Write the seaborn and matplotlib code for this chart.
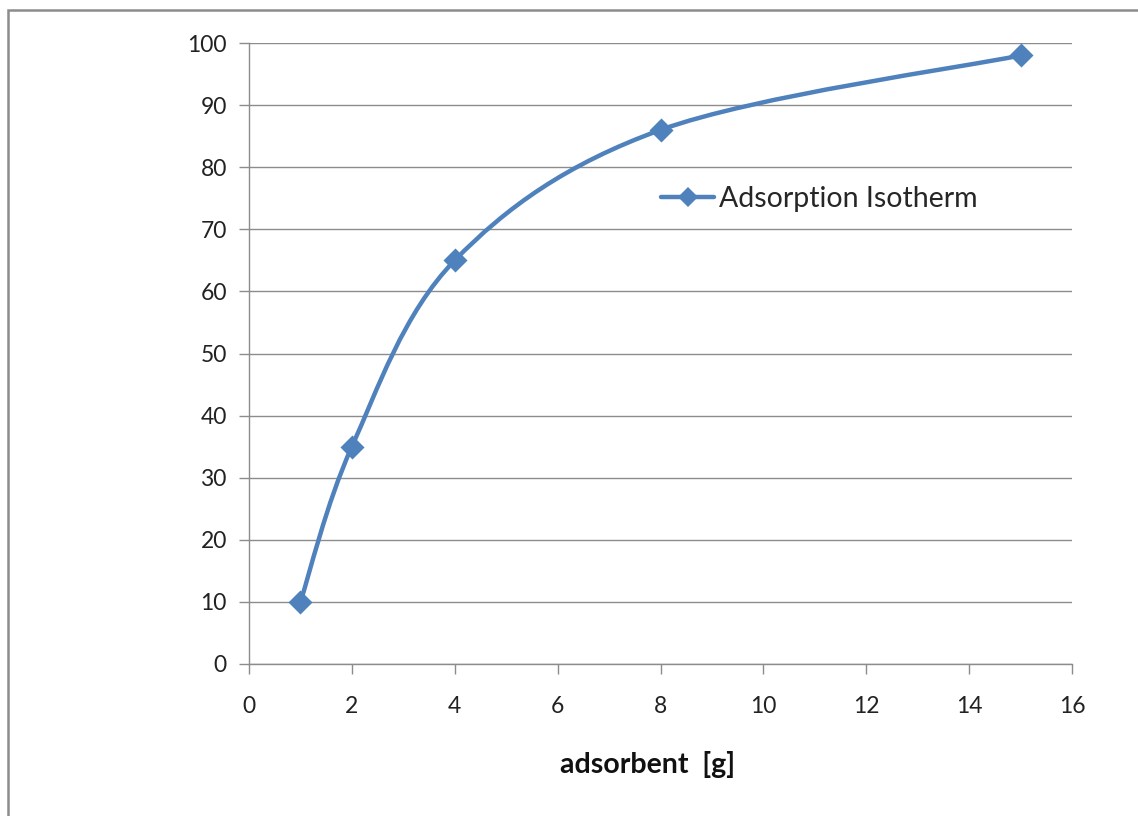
import matplotlib
matplotlib.use('Agg')
import matplotlib.pyplot as plt
import numpy as np
import pandas as pd
import seaborn as sns
from matplotlib.lines import Line2D
from matplotlib.patches import PathPatch, Rectangle
from matplotlib.path import Path

ADSORBENT_G = [1, 2, 4, 8, 15]
ADSORBED = [10, 35, 65, 86, 98]
SERIES = 'Adsorption Isotherm'
BLUE = '#4f81bd'
GREY = '#8c8c8c'

sns.set_theme(style='white')
plt.rcParams['font.family'] = ['Lato', 'DejaVu Sans']


def smooth_path(xs, ys):
    """Excel-like smoothed line: Bezier segments with Catmull-Rom tangents."""
    pts = np.column_stack([xs, ys]).astype(float)
    padded = np.vstack([pts[0], pts, pts[-1]])
    verts = [pts[0]]
    codes = [Path.MOVETO]
    for i in range(len(pts) - 1):
        p0, p1, p2, p3 = padded[i], padded[i + 1], padded[i + 2], padded[i + 3]
        c1 = p1 + (p2 - p0) / 6
        c2 = p2 - (p3 - p1) / 6
        verts += [c1, c2, p2]
        codes += [Path.CURVE4] * 3
    return Path(verts, codes)


def main():
    df = pd.DataFrame({'x': ADSORBENT_G, 'y': ADSORBED})
    fig = plt.figure(figsize=(11.38, 8.16), dpi=100)
    ax = fig.add_axes([249 / 1138, 1 - 664 / 816, 823 / 1138, 621 / 816])

    ax.add_patch(PathPatch(smooth_path(df.x, df.y), fill=False,
                           edgecolor=BLUE, lw=3.2, capstyle='round', zorder=3))
    sns.scatterplot(data=df, x='x', y='y', marker='D', s=150, color=BLUE,
                    edgecolor=BLUE, linewidth=0, zorder=4, ax=ax, legend=False)

    ax.set_xlim(0, 16)
    ax.set_ylim(0, 100)
    ax.set_xticks(range(0, 17, 2))
    ax.set_yticks(range(0, 101, 10))
    ax.yaxis.grid(True, color=GREY, lw=1)
    ax.xaxis.grid(False)
    for side in ('top', 'right'):
        ax.spines[side].set_visible(False)
    for side in ('left', 'bottom'):
        ax.spines[side].set_color(GREY)
        ax.spines[side].set_linewidth(1)
    ax.tick_params(axis='both', which='major', direction='out', length=7,
                   width=1, color=GREY, labelsize=16.5, labelcolor='#222222')
    ax.tick_params(axis='y', pad=9)
    ax.tick_params(axis='x', pad=16)
    ax.tick_params(bottom=True, left=True)
    ax.set_xlabel('adsorbent  [g]', fontsize=20.5, fontweight='bold',
                  color='#111111')
    ax.xaxis.set_label_coords(0.484, -0.14)
    ax.set_ylabel('')

    handle = Line2D([], [], color=BLUE, lw=3.2, marker='D', markersize=10,
                    markeredgewidth=0)
    ax.legend([handle], [SERIES], loc='center left', frameon=False,
              bbox_to_anchor=(647 / 1138, 1 - 199 / 816),
              bbox_transform=fig.transFigure, fontsize=20.5,
              handlelength=1.86, handletextpad=0.18, borderpad=0)

    fig.patches.append(Rectangle((8 / 1138, -0.05), 1.2, 1.05 - 10 / 816,
                                 transform=fig.transFigure, fill=False,
                                 edgecolor=GREY, lw=1.8))
    fig.savefig('out.png', dpi=100, facecolor='white')
    plt.close(fig)


if __name__ == '__main__':
    main()
